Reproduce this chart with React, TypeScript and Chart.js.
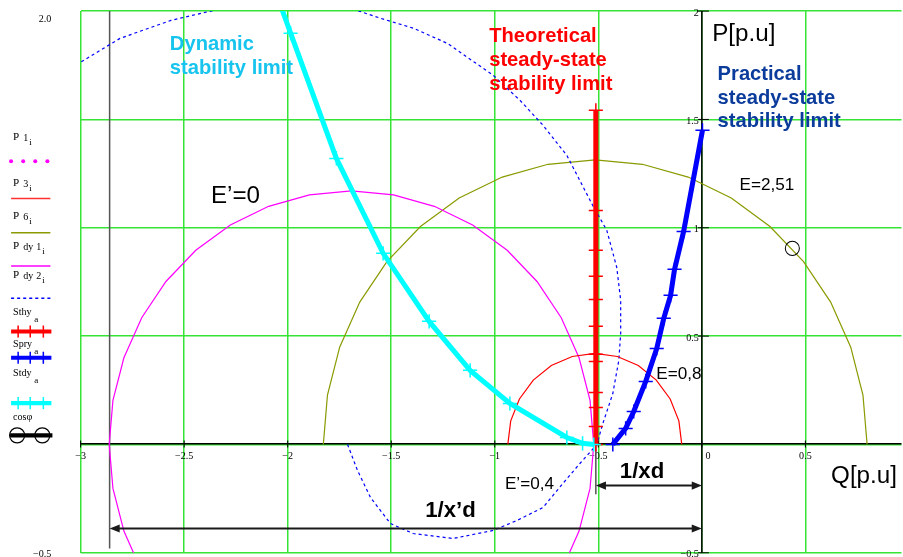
import React, { useEffect, useRef } from "react";
import { Chart, registerables } from "chart.js";

Chart.register(...registerables);

// Axis ticks (Q horizontal, P vertical)
const Q_TICKS = [-3, -2.5, -2, -1.5, -1, -0.5, 0, 0.5];
const Q_TICK_LABELS = ["\u22123", "\u22122.5", "\u22122", "\u22121.5", "\u22121", "\u22120.5", "0", "0.5"];
const P_TICKS = [2, 1.5, 1, 0.5, -0.5];
const P_TICK_LABELS = ["2", "1.5", "1", "0.5", "\u22120.5"];

// Visible window
const Q_MIN = -3;
const Q_MAX = 0.964;
const P_MIN = -0.5;
const P_MAX = 2;

// P3: steady-state circle, E = 0.8
const P3_Q = [-0.097, -0.111, -0.153, -0.22, -0.307, -0.408, -0.517, -0.626, -0.727, -0.814, -0.881, -0.923, -0.937];
const P3_P = [0, 0.109, 0.21, 0.297, 0.364, 0.406, 0.42, 0.406, 0.364, 0.297, 0.21, 0.109, 0];

// P6: steady-state circle, E = 2.51
const P6_Q = [0.798, 0.778, 0.719, 0.622, 0.491, 0.329, 0.142, -0.066, -0.287, -0.515, -0.743, -0.964, -1.172, -1.359, -1.521, -1.652, -1.749, -1.808, -1.828];
const P6_P = [0, 0.228, 0.449, 0.657, 0.844, 1.006, 1.137, 1.234, 1.293, 1.313, 1.293, 1.234, 1.137, 1.006, 0.844, 0.657, 0.449, 0.228, 0];

// Pdy1: dynamic characteristic, E' = 0
const PDY1_Q = [-0.679, -0.593, -0.54, -0.522, -0.54, -0.593, -0.679, -0.796, -0.94, -1.107, -1.292, -1.489, -1.692, -1.895, -2.092, -2.277, -2.444, -2.588, -2.705, -2.791, -2.844, -2.862, -2.844, -2.791, -2.705];
const PDY1_P = [-0.585, -0.4, -0.203, 0, 0.203, 0.4, 0.585, 0.752, 0.896, 1.013, 1.099, 1.152, 1.17, 1.152, 1.099, 1.013, 0.896, 0.752, 0.585, 0.4, 0.203, 0, -0.203, -0.4, -0.585];

// Pdy2: dynamic characteristic, E' = 0.4
const PDY2_Q = [-1.711, -1.663, -1.6, -1.504, -1.394, -1.201, -1.008, -0.893, -0.767, -0.671, -0.589, -0.507, -0.478, -0.43, -0.401, -0.392, -0.392, -0.411, -0.459, -0.527, -0.652, -0.767, -0.878, -1.008, -1.229, -1.393, -1.552, -1.75, -1.96, -2.17, -2.372, -2.564, -2.81, -3.0, -3.15];
const PDY2_P = [0, -0.12, -0.245, -0.365, -0.411, -0.434, -0.397, -0.351, -0.291, -0.18, -0.088, 0, 0.097, 0.235, 0.388, 0.512, 0.665, 0.817, 0.988, 1.103, 1.334, 1.473, 1.588, 1.704, 1.851, 1.921, 1.967, 2.03, 2.06, 2.04, 2.0, 1.957, 1.874, 1.764, 1.66];

// Theoretical steady-state stability limit
const STHY_Q = [-0.512, -0.512, -0.512, -0.512, -0.512, -0.512, -0.512, -0.512, -0.512, -0.512, -0.512, -0.512];
const STHY_P = [0, 0.083, 0.171, 0.24, 0.383, 0.416, 0.545, 0.669, 0.776, 0.896, 1.08, 1.542];

// Practical steady-state stability limit
const SPRY_Q = [-0.43, -0.368, -0.329, -0.271, -0.218, -0.184, -0.151, -0.132, -0.088, 0.003];
const SPRY_P = [0, 0.074, 0.152, 0.291, 0.443, 0.582, 0.688, 0.808, 0.983, 1.45];

// Dynamic stability limit
const STDY_Q = [-0.522, -0.576, -0.652, -0.927, -1.119, -1.317, -1.539, -1.765, -1.986, -2.1];
const STDY_P = [0, 0.005, 0.032, 0.189, 0.342, 0.568, 0.882, 1.32, 1.898, 2.2];

// Operating point (cos phi)
const COSPHI_Q = [0.437];
const COSPHI_P = [0.905];

// Reactance markers: 1/xd and 1/x'd
const INV_XD = 0.512;
const INV_XDP = 2.86;

const GRID = "#36e436";
const SANS = "'Liberation Sans', Arial, sans-serif";
const SERIF = "'Liberation Serif', 'Times New Roman', serif";
const PAGE_ZOOM = 1.0078;

const pts = (qs: number[], ps: number[]) => qs.map((q, i) => ({ x: q, y: ps[i] }));

type Note = { lines: string[]; q: number; p: number; font: string; color: string; gap: number };
const NOTES: Note[] = [
  { lines: ["Dynamic", "stability limit"], q: -2.569, p: 1.844, font: `bold 20px ${SANS}`, color: "#17c4ee", gap: 23.5 },
  { lines: ["Theoretical", "steady-state", "stability limit"], q: -1.027, p: 1.884, font: `bold 20px ${SANS}`, color: "#ff0000", gap: 24 },
  { lines: ["Practical", "steady-state", "stability limit"], q: 0.076, p: 1.706, font: `bold 20px ${SANS}`, color: "#0b3c9c", gap: 23 },
  { lines: ["E\u2019=0"], q: -2.371, p: 1.145, font: `24px ${SANS}`, color: "#000", gap: 0 },
  { lines: ["E=2,51"], q: 0.182, p: 1.196, font: `17px ${SANS}`, color: "#000", gap: 0 },
  { lines: ["E=0,8"], q: -0.22, p: 0.325, font: `17px ${SANS}`, color: "#000", gap: 0 },
  { lines: ["E\u2019=0,4"], q: -0.951, p: -0.182, font: `17px ${SANS}`, color: "#000", gap: 0 },
  { lines: ["1/x\u2019d"], q: -1.336, p: -0.305, font: `bold 22px ${SANS}`, color: "#000", gap: 0 },
  { lines: ["1/xd"], q: -0.396, p: -0.125, font: `bold 22px ${SANS}`, color: "#000", gap: 0 },
  { lines: ["Q[p.u]"], q: 0.624, p: -0.148, font: `24px ${SANS}`, color: "#000", gap: 0 },
  { lines: ["P[p.u]"], q: 0.05, p: 1.893, font: `24px ${SANS}`, color: "#000", gap: 0 },
];

// Legend column: label pieces [text, dx, dy, size], label baseline, sample line y, sample kind
type LegendItem = { parts: [string, number, number, number][]; base: number; line: number; kind: string; color: string };
const LEGEND: LegendItem[] = [
  { parts: [["P", 13, 0, 11], ["1", 23, 1, 10], ["i", 29, 5, 9]], base: 139, line: 160, kind: "dots", color: "#ff00ff" },
  { parts: [["P", 13, 0, 11], ["3", 23, 1, 10], ["i", 29, 5, 9]], base: 185, line: 197, kind: "thin", color: "#ff3030" },
  { parts: [["P", 13, 0, 11], ["6", 23, 1, 10], ["i", 29, 5, 9]], base: 217, line: 231, kind: "thin", color: "#8a9a00" },
  { parts: [["P", 13, 0, 11], ["dy", 23, 1, 10], ["1", 36, 1, 10], ["i", 42, 5, 9]], base: 247, line: 264, kind: "thin", color: "#ff00ff" },
  { parts: [["P", 13, 0, 11], ["dy", 23, 1, 10], ["2", 36, 1, 10], ["i", 42, 5, 9]], base: 276, line: 296, kind: "dash", color: "#0000ff" },
  { parts: [["Sthy", 13, 0, 10], ["a", 34, 7, 9]], base: 313, line: 329, kind: "cross", color: "#ff0000" },
  { parts: [["Spry", 13, 0, 10], ["a", 34, 7, 9]], base: 344, line: 355, kind: "cross", color: "#0000ff" },
  { parts: [["Stdy", 13, 0, 10], ["a", 34, 7, 9]], base: 373, line: 400, kind: "cross", color: "#00ffff" },
  { parts: [["cos\u03c6", 13, 0, 10]], base: 417, line: 432, kind: "circles", color: "#000000" },
];

function doubleArrow(ctx: CanvasRenderingContext2D, x1: number, x2: number, y: number) {
  ctx.beginPath();
  ctx.moveTo(x1 + 6, y);
  ctx.lineTo(x2 - 6, y);
  ctx.stroke();
  ctx.beginPath();
  ctx.moveTo(x1, y);
  ctx.lineTo(x1 + 10, y - 4);
  ctx.lineTo(x1 + 10, y + 4);
  ctx.closePath();
  ctx.fill();
  ctx.beginPath();
  ctx.moveTo(x2, y);
  ctx.lineTo(x2 - 10, y - 4);
  ctx.lineTo(x2 - 10, y + 4);
  ctx.closePath();
  ctx.fill();
}

const overlay = {
  id: "pqOverlay",
  beforeDatasetsDraw(chart: any) {
    const { ctx, chartArea } = chart;
    const sx = chart.scales.x;
    const sy = chart.scales.y;
    const x0 = sx.getPixelForValue(0);
    const y0 = sy.getPixelForValue(0);
    ctx.save();
    ctx.strokeStyle = "#000";
    ctx.lineWidth = 1.5;
    ctx.beginPath();
    ctx.moveTo(chartArea.left, y0 - 0.75);
    ctx.lineTo(chartArea.right, y0 - 0.75);
    ctx.stroke();
    ctx.beginPath();
    ctx.moveTo(x0, chartArea.top);
    ctx.lineTo(x0, chartArea.bottom);
    ctx.stroke();

    // tick marks and labels on the crossing axes
    ctx.lineWidth = 1;
    ctx.fillStyle = "#000";
    ctx.font = `10px ${SERIF}`;
    ctx.textBaseline = "middle";
    ctx.textAlign = "center";
    Q_TICKS.forEach((q, i) => {
      const x = sx.getPixelForValue(q);
      ctx.beginPath();
      ctx.moveTo(x, y0 - 4);
      ctx.lineTo(x, y0 + 3);
      ctx.stroke();
      ctx.fillText(Q_TICK_LABELS[i], q === 0 ? x + 6 : x, y0 + 12);
    });
    ctx.textAlign = "right";
    P_TICKS.forEach((p, i) => {
      const y = sy.getPixelForValue(p);
      ctx.beginPath();
      ctx.moveTo(x0 - 4, y);
      ctx.lineTo(x0 + 7, y);
      ctx.stroke();
      ctx.fillText(P_TICK_LABELS[i], x0 - 3, y + 2);
    });

    // reactance marker lines
    ctx.strokeStyle = "#555";
    ctx.lineWidth = 1.5;
    const xA = sx.getPixelForValue(-INV_XDP);
    ctx.beginPath();
    ctx.moveTo(xA, sy.getPixelForValue(2));
    ctx.lineTo(xA, sy.getPixelForValue(-0.48));
    ctx.stroke();
    const xB = sx.getPixelForValue(-INV_XD);
    ctx.beginPath();
    ctx.moveTo(xB, sy.getPixelForValue(0.1));
    ctx.lineTo(xB, sy.getPixelForValue(-0.23));
    ctx.stroke();
    ctx.restore();
  },
  afterDatasetsDraw(chart: any) {
    const { ctx } = chart;
    const sx = chart.scales.x;
    const sy = chart.scales.y;
    ctx.save();

    // 1/x'd and 1/xd spans
    ctx.strokeStyle = "#1a1a1a";
    ctx.fillStyle = "#1a1a1a";
    ctx.lineWidth = 2;
    doubleArrow(ctx, sx.getPixelForValue(-INV_XDP), sx.getPixelForValue(0), sy.getPixelForValue(-0.388));
    doubleArrow(ctx, sx.getPixelForValue(-INV_XD), sx.getPixelForValue(0), sy.getPixelForValue(-0.19));

    // text notes
    ctx.textAlign = "left";
    ctx.textBaseline = "middle";
    NOTES.forEach((n) => {
      ctx.font = n.font;
      ctx.fillStyle = n.color;
      const x = sx.getPixelForValue(n.q);
      const y = sy.getPixelForValue(n.p);
      n.lines.forEach((t, i) => ctx.fillText(t, x, y + i * n.gap));
    });
    ctx.restore();
  },
  afterDraw(chart: any) {
    const { ctx } = chart;
    ctx.save();
    ctx.fillStyle = "#000";
    ctx.textBaseline = "alphabetic";
    ctx.textAlign = "right";
    ctx.font = `10px ${SERIF}`;
    ctx.fillText("2.0", 51, 22);
    ctx.fillText("\u22120.5", 51, 553);
    ctx.textAlign = "left";

    LEGEND.forEach((it) => {
      ctx.fillStyle = "#000";
      it.parts.forEach(([t, dx, dy, sz]) => {
        ctx.font = `${sz}px ${SERIF}`;
        ctx.fillText(t, dx, it.base + dy);
      });
      const y = it.line;
      ctx.strokeStyle = it.color;
      ctx.fillStyle = it.color;
      ctx.setLineDash([]);
      if (it.kind === "dots") {
        [11, 23, 35, 47].forEach((x) => {
          ctx.beginPath();
          ctx.arc(x, y, 2, 0, Math.PI * 2);
          ctx.fill();
        });
      } else if (it.kind === "thin" || it.kind === "dash") {
        ctx.lineWidth = 1.5;
        if (it.kind === "dash") ctx.setLineDash([3, 3]);
        ctx.beginPath();
        ctx.moveTo(11, y);
        ctx.lineTo(50, y);
        ctx.stroke();
        ctx.setLineDash([]);
      } else if (it.kind === "cross") {
        ctx.lineWidth = 4;
        ctx.beginPath();
        ctx.moveTo(11, y);
        ctx.lineTo(51, y);
        ctx.stroke();
        ctx.lineWidth = 1.5;
        [18, 30, 43].forEach((x) => {
          ctx.beginPath();
          ctx.moveTo(x, y - 6);
          ctx.lineTo(x, y + 6);
          ctx.stroke();
        });
      } else if (it.kind === "circles") {
        ctx.lineWidth = 4;
        ctx.beginPath();
        ctx.moveTo(10, y);
        ctx.lineTo(52, y);
        ctx.stroke();
        ctx.lineWidth = 1.2;
        [17, 42].forEach((x) => {
          ctx.beginPath();
          ctx.arc(x, y, 7.5, 0, Math.PI * 2);
          ctx.stroke();
        });
      }
    });
    ctx.restore();
  },
};

export default function App() {
  const ref = useRef<HTMLCanvasElement>(null);

  useEffect(() => {
    if (!ref.current) return;
    const thick = (color: string) => ({
      showLine: true,
      borderColor: color,
      backgroundColor: color,
      borderWidth: 5,
      pointStyle: "cross",
      pointRadius: 7,
      pointBorderColor: color,
      pointBorderWidth: 1.5,
      tension: 0,
    });
    const thin = (color: string) => ({
      showLine: true,
      borderColor: color,
      backgroundColor: color,
      borderWidth: 1.2,
      pointRadius: 0,
      tension: 0,
    });

    const chart = new Chart(ref.current, {
      type: "scatter",
      data: {
        datasets: [
          { label: "Stdy", data: pts(STDY_Q, STDY_P), ...thick("#00ffff") },
          { label: "Sthy", data: pts(STHY_Q, STHY_P), ...thick("#ff0000") },
          { label: "Spry", data: pts(SPRY_Q, SPRY_P), ...thick("#0000ff") },
          {
            label: "cos\u03c6",
            data: pts(COSPHI_Q, COSPHI_P),
            showLine: false,
            pointStyle: "circle",
            pointRadius: 7,
            pointBorderWidth: 1,
            pointBorderColor: "#000",
            pointBackgroundColor: "rgba(0,0,0,0)",
          },
          { label: "P3", data: pts(P3_Q, P3_P), ...thin("#ff0000") },
          { label: "Pdy2", data: pts(PDY2_Q, PDY2_P), ...thin("#0000ff"), borderDash: [3, 3] },
          { label: "Pdy1", data: pts(PDY1_Q, PDY1_P), ...thin("#ff00ff") },
          { label: "P6", data: pts(P6_Q, P6_P), ...thin("#8a9a00") },
        ] as any,
      },
      options: {
        animation: false,
        responsive: false,
        devicePixelRatio: PAGE_ZOOM,
        events: [],
        layout: { padding: { left: 80, top: 11, right: 0, bottom: 5 } },
        plugins: { legend: { display: false }, tooltip: { enabled: false } },
        scales: {
          x: {
            type: "linear",
            min: Q_MIN,
            max: Q_MAX,
            border: { display: false },
            grid: { color: GRID, lineWidth: 1.5, drawTicks: false },
            ticks: { display: false, stepSize: 0.5, includeBounds: false },
          },
          y: {
            type: "linear",
            min: P_MIN,
            max: P_MAX,
            border: { display: false },
            grid: { color: GRID, lineWidth: 1.5, drawTicks: false },
            ticks: { display: false, stepSize: 0.5 },
          },
        },
      } as any,
      plugins: [overlay],
    });
    return () => chart.destroy();
  }, []);

  return (
    <div
      style={{
        position: "fixed",
        left: 0,
        top: 0,
        width: 903,
        height: 557,
        overflow: "hidden",
        background: "#fff",
        zoom: PAGE_ZOOM,
      } as any}
    >
      <canvas ref={ref} width={903} height={557} style={{ display: "block", width: 903, height: 557 }} />
    </div>
  );
}
